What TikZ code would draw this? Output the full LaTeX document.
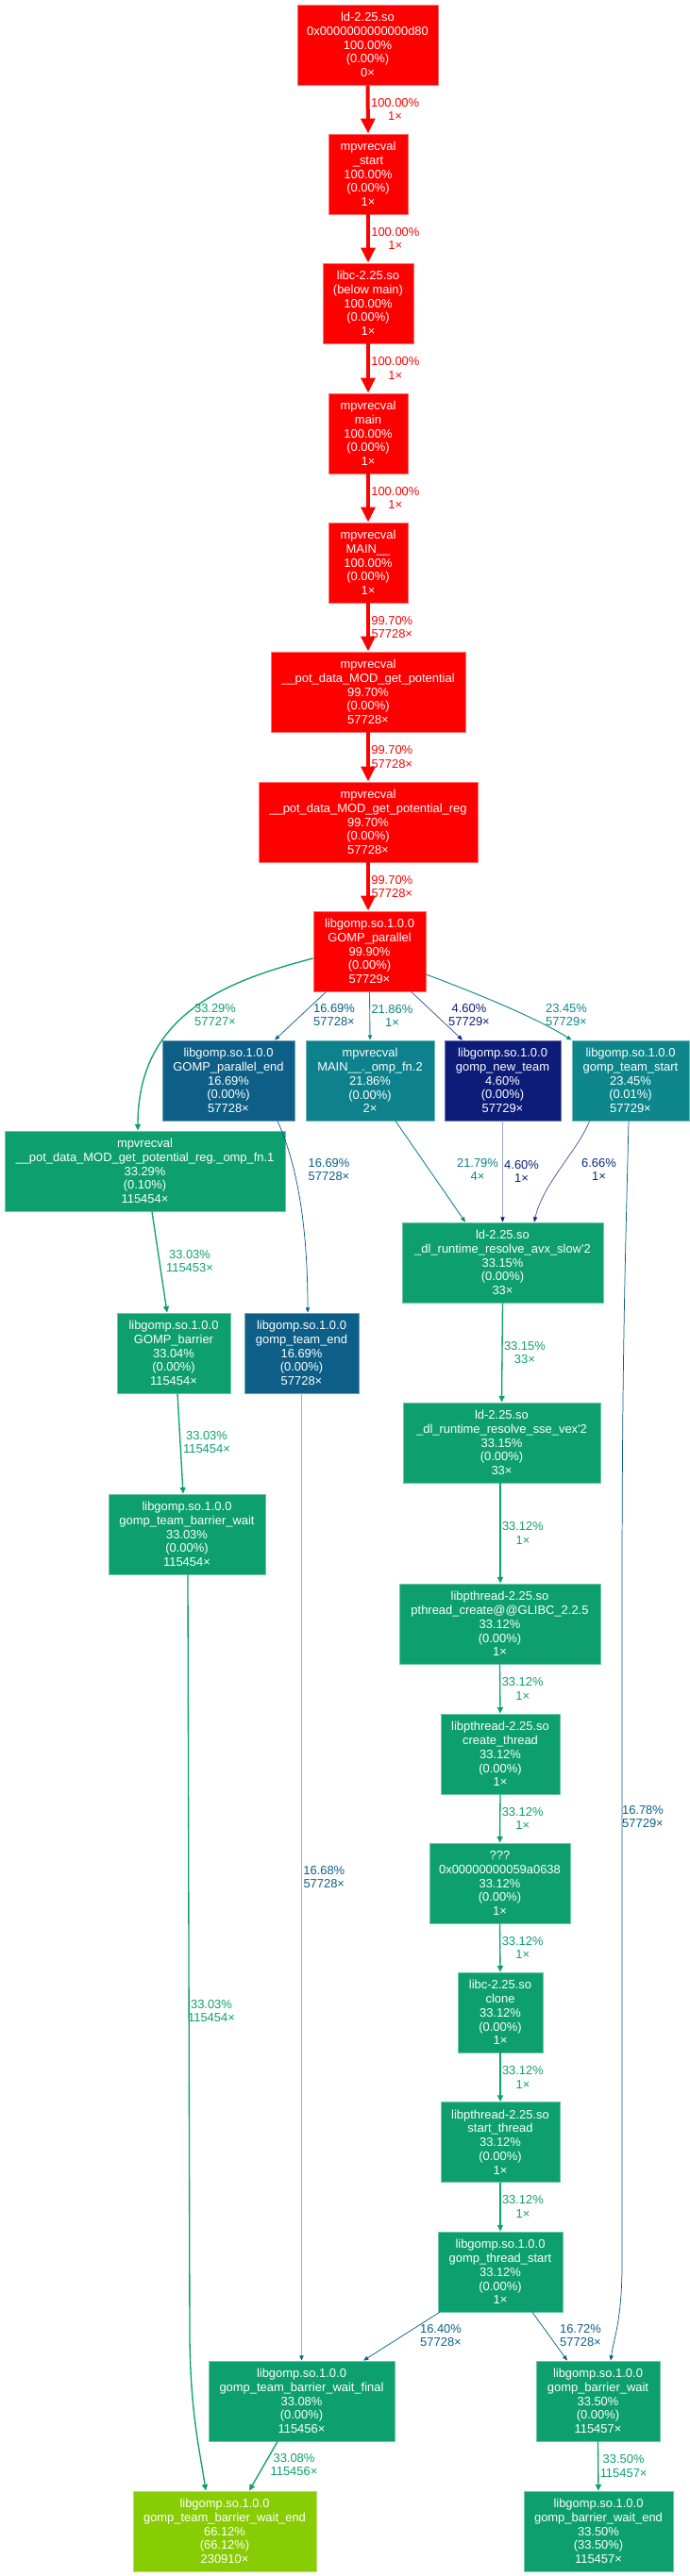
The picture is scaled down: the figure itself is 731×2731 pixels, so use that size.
\documentclass[tikz,border=0pt]{standalone}
\usepackage{fontspec}
\setmainfont{Liberation Sans}
\usetikzlibrary{arrows.meta,calc}
\definecolor{cred}{HTML}{FF0000}
\definecolor{cgrn}{HTML}{0DA06E}
\definecolor{cblu}{HTML}{0D5F87}
\definecolor{ctea}{HTML}{0D818C}
\definecolor{ctea2}{HTML}{0D878C}
\definecolor{cnav}{HTML}{0D1C78}
\definecolor{cnav2}{HTML}{0D2A7C}
\definecolor{clim}{HTML}{88CC04}
\newcommand\gfont{\fontsize{9.7pt}{11.1pt}\selectfont}
\begin{document}
\begin{tikzpicture}[x=0.75pt,y=-0.75pt,
 nd/.style={rectangle, inner sep=0pt, minimum height=63.75pt, text=white, align=center, font=\gfont, line width=0.6pt},
 ndr/.style={nd, fill=cred, draw=cred!55!white},
 ndg/.style={nd, fill=cgrn, draw=cgrn!60!white},
 ndb/.style={nd, fill=cblu, draw=cblu!60!white},
 ndt/.style={nd, fill=ctea, draw=ctea!60!white},
 ndt2/.style={nd, fill=ctea2, draw=ctea2!60!white},
 ndn/.style={nd, fill=cnav, draw=cnav!60!white},
 ndl/.style={nd, fill=clim, draw=clim!60!white},
 lbl/.style={font=\gfont, align=center, inner sep=1pt},
 ebig/.style={line width=3pt, draw=cred, -{Triangle[length=12pt,width=11pt]}},
 emid/.style={line width=1pt, -{Triangle[length=5pt,width=4.5pt]}},
 ethin/.style={line width=0.55pt, -{Triangle[length=4pt,width=3.2pt]}},
 ethn/.style={line width=0.4pt, -{Triangle[length=4pt,width=3.2pt]}},
]
\useasboundingbox[fill=white] (0,0) rectangle (731,2731);

% nodes
\node[ndr, minimum width=111.75pt] (ld) at (389.5,47.5) {ld-2.25.so\\0x0000000000000d80\\100.00\%\\(0.00\%)\\0×};
\node[ndr, minimum width=63pt] (start) at (390,184.5) {mpvrecval\\\_start\\100.00\%\\(0.00\%)\\1×};
\node[ndr, minimum width=72pt] (libc) at (390,321.5) {libc-2.25.so\\(below main)\\100.00\%\\(0.00\%)\\1×};
\node[ndr, minimum width=63pt] (main) at (390,459.5) {mpvrecval\\main\\100.00\%\\(0.00\%)\\1×};
\node[ndr, minimum width=63pt] (MAIN) at (390,596.5) {mpvrecval\\MAIN\_\_\\100.00\%\\(0.00\%)\\1×};
\node[ndr, minimum width=154.5pt] (getpot) at (390,733.5) {mpvrecval\\\_\_pot\_data\_MOD\_get\_potential\\99.70\%\\(0.00\%)\\57728×};
\node[ndr, minimum width=174pt] (reg) at (390,871.5) {mpvrecval\\\_\_pot\_data\_MOD\_get\_potential\_reg\\99.70\%\\(0.00\%)\\57728×};
\node[ndr, minimum width=89.25pt] (par) at (391.5,1008.5) {libgomp.so.1.0.0\\GOMP\_parallel\\99.90\%\\(0.00\%)\\57729×};
\node[ndb, minimum width=105pt] (pend) at (242,1145.5) {libgomp.so.1.0.0\\GOMP\_parallel\_end\\16.69\%\\(0.00\%)\\57728×};
\node[ndt, minimum width=102pt] (fn2) at (392,1145.5) {mpvrecval\\MAIN\_\_.\_omp\_fn.2\\21.86\%\\(0.00\%)\\2×};
\node[ndn, minimum width=92.25pt] (nt) at (532.5,1145.5) {libgomp.so.1.0.0\\gomp\_new\_team\\4.60\%\\(0.00\%)\\57729×};
\node[ndt2, minimum width=93pt] (ts) at (668,1145.5) {libgomp.so.1.0.0\\gomp\_team\_start\\23.45\%\\(0.01\%)\\57729×};
\node[ndg, minimum width=222.75pt] (fn1) at (153.5,1241.5) {mpvrecval\\\_\_pot\_data\_MOD\_get\_potential\_reg.\_omp\_fn.1\\33.29\%\\(0.10\%)\\115454×};
\node[ndg, minimum width=159.75pt] (avx) at (532.5,1338.5) {ld-2.25.so\\\_dl\_runtime\_resolve\_avx\_slow\textquotesingle 2\\33.15\%\\(0.00\%)\\33×};
\node[ndg, minimum width=90pt] (gb) at (184,1434.5) {libgomp.so.1.0.0\\GOMP\_barrier\\33.04\%\\(0.00\%)\\115454×};
\node[ndb, minimum width=90.75pt] (te) at (319.5,1434.5) {libgomp.so.1.0.0\\gomp\_team\_end\\16.69\%\\(0.00\%)\\57728×};
\node[ndg, minimum width=156.75pt] (sse) at (531.5,1529.5) {ld-2.25.so\\\_dl\_runtime\_resolve\_sse\_vex\textquotesingle 2\\33.15\%\\(0.00\%)\\33×};
\node[ndg, minimum width=124.5pt] (tbw) at (198,1626.5) {libgomp.so.1.0.0\\gomp\_team\_barrier\_wait\\33.03\%\\(0.00\%)\\115454×};
\node[ndg, minimum width=159.75pt] (pc) at (529.5,1721.5) {libpthread-2.25.so\\pthread\_create@@GLIBC\_2.2.5\\33.12\%\\(0.00\%)\\1×};
\node[ndg, minimum width=94.5pt] (ct) at (530,1859.5) {libpthread-2.25.so\\create\_thread\\33.12\%\\(0.00\%)\\1×};
\node[ndg, minimum width=111.75pt] (qqq) at (529.5,1996.5) {???\\0x00000000059a0638\\33.12\%\\(0.00\%)\\1×};
\node[ndg, minimum width=67.5pt] (clone) at (530,2133.5) {libc-2.25.so\\clone\\33.12\%\\(0.00\%)\\1×};
\node[ndg, minimum width=94.5pt] (st) at (530,2271) {libpthread-2.25.so\\start\_thread\\33.12\%\\(0.00\%)\\1×};
\node[ndg, minimum width=99pt] (ths) at (530,2408.5) {libgomp.so.1.0.0\\gomp\_thread\_start\\33.12\%\\(0.00\%)\\1×};
\node[ndg, minimum width=147.75pt] (fin) at (319.5,2545.5) {libgomp.so.1.0.0\\gomp\_team\_barrier\_wait\_final\\33.08\%\\(0.00\%)\\115456×};
\node[ndg, minimum width=98.25pt] (bw) at (633.5,2545.5) {libgomp.so.1.0.0\\gomp\_barrier\_wait\\33.50\%\\(0.00\%)\\115457×};
\node[ndl, minimum width=145.5pt] (twe) at (238,2683.5) {libgomp.so.1.0.0\\gomp\_team\_barrier\_wait\_end\\66.12\%\\(66.12\%)\\230910×};
\node[ndg, minimum width=118.5pt] (bwe) at (634,2683.5) {libgomp.so.1.0.0\\gomp\_barrier\_wait\_end\\33.50\%\\(33.50\%)\\115457×};

% top red chain
\draw[ebig] (ld.south) -- node[lbl,text=cred,right]{100.00\%\\1×} (start.north);
\draw[ebig] (start.south) -- node[lbl,text=cred,right]{100.00\%\\1×} (libc.north);
\draw[ebig] (libc.south) -- node[lbl,text=cred,right]{100.00\%\\1×} (main.north);
\draw[ebig] (main.south) -- node[lbl,text=cred,right]{100.00\%\\1×} (MAIN.north);
\draw[ebig] (MAIN.south) -- node[lbl,text=cred,right]{99.70\%\\57728×} (getpot.north);
\draw[ebig] (getpot.south) -- node[lbl,text=cred,right]{99.70\%\\57728×} (reg.north);
\draw[ebig] (reg.south) -- node[lbl,text=cred,right]{99.70\%\\57728×} ($(par.north)+(-1.5,0)$);

% from GOMP_parallel
\draw[emid,draw=cgrn] ($(par.west)+(0,7.5)$) .. controls (240,1040) and (146,1075) .. ($(fn1.north)+(-7.5,0)$);
\node[lbl,text=cgrn] (l1) at (228,1076) {33.29\%\\57727×};
\draw[ethin,draw=cblu] ($(par.south west)+(14,0)$) -- ($(pend.north)+(49,0)$);
\node[lbl,text=cblu] (l2) at (354,1076) {16.69\%\\57728×};
\draw[ethin,line width=0.65pt,draw=ctea] (par.south) -- node[lbl,text=ctea,right]{21.86\%\\1×} (fn2.north);
\draw[ethn,draw=cnav] ($(par.south west)+(104,0)$) -- ($(nt.north)+(-42.5,0)$);
\node[lbl,text=cnav] (l3) at (497,1076) {4.60\%\\57729×};
\draw[ethin,line width=0.7pt,draw=ctea2] ($(par.east)+(0,24.5)$) .. controls (510,1055) and (570,1080) .. (ts.north west);
\node[lbl,text=ctea2] (l4) at (600,1076) {23.45\%\\57729×};

% second row
\draw[ethin,draw=cblu] ($(pend.south)+(52,0)$) .. controls (315,1235) and (326,1300) .. ($(te.north)+(6.5,0)$);
\node[lbl,text=cblu] (l5) at (348.5,1240) {16.69\%\\57728×};
\draw[ethin,line width=0.65pt,draw=ctea] ($(fn2.south)+(27,0)$) -- ($(avx.north)+(-39.5,0)$);
\node[lbl,text=ctea] (l6) at (506,1240) {21.79\%\\4×};
\draw[line width=0.6pt,draw=cnav!40!white,-{Triangle[length=4pt,width=3.2pt,color=cnav]}] (nt.south) -- node[lbl,text=cnav,right]{4.60\%\\1×} (avx.north);
\draw[ethn,draw=cnav2] ($(ts.south west)+(19,0)$) .. controls (612,1220) and (575,1255) .. ($(avx.north)+(33.5,0)$);
\node[lbl,text=cnav2] (l7) at (634.5,1240) {6.66\%\\1×};
\draw[ethin,draw=cblu] ($(ts.south)+(-2,0)$) .. controls (662,1350) and (659,1450) .. (659,1700) -- (659,2400) .. controls (659,2460) and (650,2480) .. ($(bw.north)+(13.5,0)$);
\node[lbl,text=cblu] (l8) at (681,1926) {16.78\%\\57729×};

% left column
\draw[emid,draw=cgrn] ($(fn1.south)+(7.5,0)$) -- ($(gb.north)+(-7,0)$);
\node[lbl,text=cgrn] (l9) at (201,1337) {33.03\%\\115453×};
\draw[line width=0.8pt,draw=cblu!45!white,-{Triangle[length=4pt,width=3.2pt,color=cblu]}] (te.south) -- node[lbl,text=cblu,right]{16.68\%\\57728×} (fin.north);
\draw[emid,draw=cgrn] ($(gb.south)+(4,0)$) -- ($(tbw.north)+(-4,0)$);
\node[lbl,text=cgrn] (l10) at (219,1529) {33.03\%\\115454×};
\draw[emid,draw=cgrn] ($(tbw.south)+(1,0)$) -- (201,2480) .. controls (202,2560) and (212,2600) .. ($(twe.north)+(-20,0)$);
\node[lbl,text=cgrn] (l11) at (224,2132) {33.03\%\\115454×};

% right green chain
\draw[emid,draw=cgrn] (avx.south) -- node[lbl,text=cgrn,right]{33.15\%\\33×} (sse.north);
\draw[emid,draw=cgrn] ($(sse.south)+(-1.5,0)$) -- node[lbl,text=cgrn,right]{33.12\%\\1×} ($(pc.north)+(0.5,0)$);
\draw[emid,draw=cgrn] (pc.south) -- node[lbl,text=cgrn,right]{33.12\%\\1×} (ct.north);
\draw[emid,draw=cgrn] (ct.south) -- node[lbl,text=cgrn,right]{33.12\%\\1×} (qqq.north);
\draw[emid,draw=cgrn] (qqq.south) -- node[lbl,text=cgrn,right]{33.12\%\\1×} (clone.north);
\draw[emid,draw=cgrn] (clone.south) -- node[lbl,text=cgrn,right]{33.12\%\\1×} (st.north);
\draw[emid,draw=cgrn] (st.south) -- node[lbl,text=cgrn,right]{33.12\%\\1×} (ths.north);

% bottom
\draw[ethin,draw=cblu] ($(ths.south west)+(2,0)$) -- ($(fin.north)+(65.5,0)$);
\node[lbl,text=cblu] (l12) at (467,2476) {16.40\%\\57728×};
\draw[ethin,draw=cblu] ($(ths.south)+(34,0)$) -- ($(bw.north)+(-32.5,0)$);
\node[lbl,text=cblu] (l13) at (615,2476) {16.72\%\\57728×};
\draw[emid,draw=cgrn] ($(fin.south)+(-25.5,0)$) -- ($(twe.north)+(26,0)$);
\node[lbl,text=cgrn] (l14) at (311.5,2613) {33.08\%\\115456×};
\draw[emid,draw=cgrn] (bw.south) -- node[lbl,text=cgrn,right]{33.50\%\\115457×} (bwe.north);
\end{tikzpicture}
\end{document}
